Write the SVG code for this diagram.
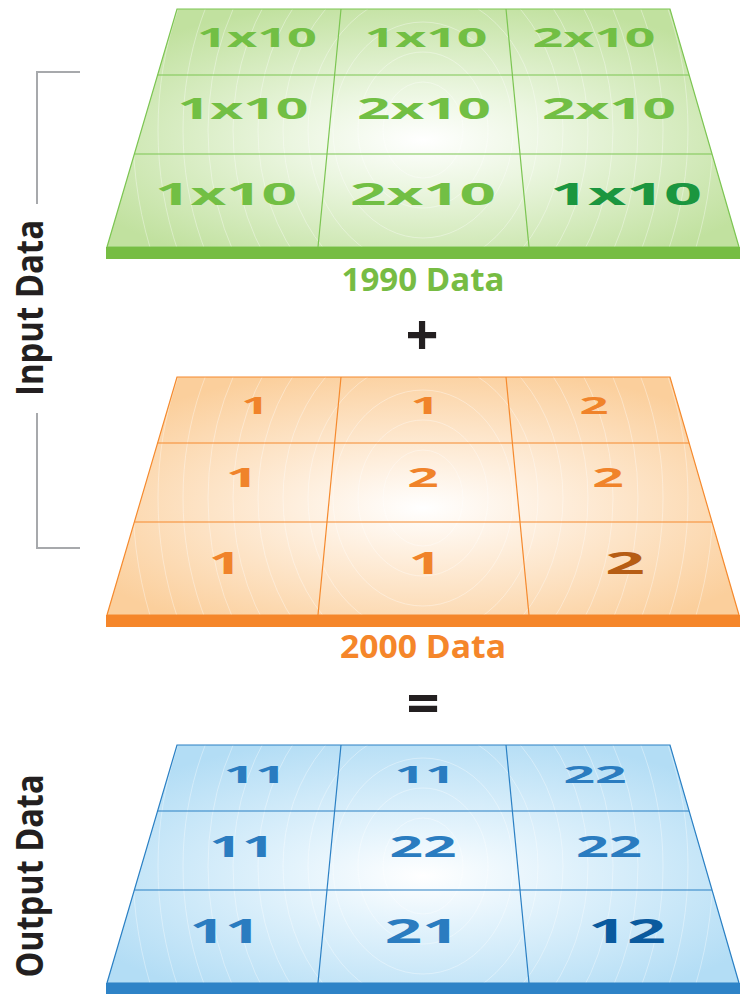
<svg xmlns="http://www.w3.org/2000/svg" width="742" height="994" viewBox="0 0 742 994">
<style>
.num{font-family:"Open Sans","Noto Sans",sans-serif;font-weight:bold;text-anchor:middle}
.lbl{font-family:"Open Sans","Noto Sans",sans-serif;font-weight:bold;text-anchor:middle}
.side{font-family:"Open Sans","Noto Sans",sans-serif;font-weight:bold;text-anchor:middle;fill:#231f20}
.grid{fill:none;stroke-width:1.2}
.ring{fill:none;stroke:#ffffff;stroke-width:0.8;stroke-opacity:0.45}
.g .gl{stroke:#7cc552}.g .bar{fill:#76bd43}.g .num{fill:#72bf44}.g .dk{fill:#1b963f}
.o .gl{stroke:#f58a2e}.o .bar{fill:#f5862a}.o .num{fill:#f0832a}.o .dk{fill:#b65d14}
.b .gl{stroke:#2b80c4}.b .bar{fill:#2e83c7}.b .num{fill:#2a7cc0}.b .dk{fill:#0a5a9e}
</style>
<defs>
<radialGradient id="gGreen" cx="0.5" cy="0.55" r="0.6">
<stop offset="0" stop-color="#ffffff"/><stop offset="0.35" stop-color="#ebf6e0"/><stop offset="1" stop-color="#c1e19f"/>
</radialGradient>
<radialGradient id="gOrange" cx="0.5" cy="0.55" r="0.6">
<stop offset="0" stop-color="#ffffff"/><stop offset="0.35" stop-color="#feeedc"/><stop offset="1" stop-color="#fbcf9c"/>
</radialGradient>
<radialGradient id="gBlue" cx="0.5" cy="0.55" r="0.6">
<stop offset="0" stop-color="#ffffff"/><stop offset="0.35" stop-color="#e3f3fc"/><stop offset="1" stop-color="#b3ddf5"/>
</radialGradient>
<clipPath id="panelClip"><polygon points="177,9 670,9 739,247 107,247"/></clipPath>
<g id="rings" clip-path="url(#panelClip)">
<ellipse class="ring" cx="423" cy="130" rx="40" ry="48"/>
<ellipse class="ring" cx="423" cy="130" rx="65" ry="78"/>
<ellipse class="ring" cx="423" cy="130" rx="90" ry="108"/>
<ellipse class="ring" cx="423" cy="130" rx="115" ry="138"/>
<ellipse class="ring" cx="423" cy="130" rx="140" ry="168"/>
<ellipse class="ring" cx="423" cy="130" rx="165" ry="198"/>
<ellipse class="ring" cx="423" cy="130" rx="190" ry="228"/>
<ellipse class="ring" cx="423" cy="130" rx="215" ry="258"/>
<ellipse class="ring" cx="423" cy="130" rx="240" ry="288"/>
<ellipse class="ring" cx="423" cy="130" rx="265" ry="318"/>
<ellipse class="ring" cx="423" cy="130" rx="290" ry="348"/>
</g>
<g id="gridLines">
<polygon class="grid" points="177,9 670,9 739,247 107,247"/>
<line class="grid" x1="157.6" y1="75" x2="689.1" y2="75"/>
<line class="grid" x1="134.4" y1="154" x2="712" y2="154"/>
<line class="grid" x1="341" y1="9" x2="318" y2="247"/>
<line class="grid" x1="506" y1="9" x2="529" y2="247"/>
</g>
</defs>

<g id="panel-1990" class="g">
<polygon points="177,9 670,9 739,247 107,247" fill="url(#gGreen)"/>
<use href="#rings"/>
<use class="gl" href="#gridLines"/>
<rect class="bar" x="106" y="247" width="634" height="12"/>
<text class="num" x="257" y="47" font-size="26" textLength="120" lengthAdjust="spacingAndGlyphs">1x10</text>
<text class="num" x="426" y="47" font-size="26" textLength="123" lengthAdjust="spacingAndGlyphs">1x10</text>
<text class="num" x="594" y="47" font-size="26" textLength="123" lengthAdjust="spacingAndGlyphs">2x10</text>
<text class="num" x="243" y="119" font-size="28" textLength="131" lengthAdjust="spacingAndGlyphs">1x10</text>
<text class="num" x="424" y="119" font-size="28" textLength="134" lengthAdjust="spacingAndGlyphs">2x10</text>
<text class="num" x="609" y="119" font-size="28" textLength="134" lengthAdjust="spacingAndGlyphs">2x10</text>
<text class="num" x="226" y="205" font-size="31" textLength="142" lengthAdjust="spacingAndGlyphs">1x10</text>
<text class="num" x="423" y="205" font-size="31" textLength="146" lengthAdjust="spacingAndGlyphs">2x10</text>
<text class="num dk" x="626" y="205" font-size="31" textLength="152" lengthAdjust="spacingAndGlyphs">1x10</text>
</g>
<g id="label-1990">
<text class="lbl" x="423" y="291" font-size="32" fill="#77bc43" textLength="163" lengthAdjust="spacingAndGlyphs">1990 Data</text>
</g>
<g id="plus">
<text class="lbl" x="422" y="355" font-size="58" fill="#231f20">+</text>
</g>

<g id="panel-2000" class="o" transform="translate(0,368)">
<polygon points="177,9 670,9 739,247 107,247" fill="url(#gOrange)"/>
<use href="#rings"/>
<use class="gl" href="#gridLines"/>
<rect class="bar" x="106" y="247" width="634" height="12"/>
<text class="num" x="255" y="46" font-size="24" textLength="27.5" lengthAdjust="spacingAndGlyphs">1</text>
<text class="num" x="425" y="46" font-size="24" textLength="29" lengthAdjust="spacingAndGlyphs">1</text>
<text class="num" x="594" y="46" font-size="24" textLength="29" lengthAdjust="spacingAndGlyphs">2</text>
<text class="num" x="242" y="119" font-size="26.5" textLength="32.6" lengthAdjust="spacingAndGlyphs">1</text>
<text class="num" x="423" y="119" font-size="26.5" textLength="31.5" lengthAdjust="spacingAndGlyphs">2</text>
<text class="num" x="608" y="119" font-size="26.5" textLength="31.5" lengthAdjust="spacingAndGlyphs">2</text>
<text class="num" x="225" y="206" font-size="31" textLength="32.7" lengthAdjust="spacingAndGlyphs">1</text>
<text class="num" x="425" y="206" font-size="31" textLength="32.7" lengthAdjust="spacingAndGlyphs">1</text>
<text class="num dk" x="625" y="206" font-size="31" textLength="39.7" lengthAdjust="spacingAndGlyphs">2</text>
</g>
<g id="label-2000">
<text class="lbl" x="423" y="658" font-size="32" fill="#f5862a" textLength="166" lengthAdjust="spacingAndGlyphs">2000 Data</text>
</g>
<g id="equals">
<text class="lbl" x="423" y="724" font-size="58" fill="#231f20">=</text>
</g>

<g id="panel-output" class="b" transform="translate(0,736)">
<polygon points="177,9 670,9 739,247 107,247" fill="url(#gBlue)"/>
<use href="#rings"/>
<use class="gl" href="#gridLines"/>
<rect class="bar" x="106" y="247" width="634" height="12"/>
<text class="num" x="255" y="47" font-size="23" textLength="63" lengthAdjust="spacingAndGlyphs">11</text>
<text class="num" x="425" y="47" font-size="23" textLength="61" lengthAdjust="spacingAndGlyphs">11</text>
<text class="num" x="595" y="47" font-size="23" textLength="63" lengthAdjust="spacingAndGlyphs">22</text>
<text class="num" x="242" y="121" font-size="28" textLength="65.7" lengthAdjust="spacingAndGlyphs">11</text>
<text class="num" x="423" y="121" font-size="28" textLength="67" lengthAdjust="spacingAndGlyphs">22</text>
<text class="num" x="609" y="121" font-size="28" textLength="66" lengthAdjust="spacingAndGlyphs">22</text>
<text class="num" x="225" y="207" font-size="33.5" textLength="71" lengthAdjust="spacingAndGlyphs">11</text>
<text class="num" x="422" y="207" font-size="33.5" textLength="74.7" lengthAdjust="spacingAndGlyphs">21</text>
<text class="num dk" x="627" y="207" font-size="33.5" textLength="77.8" lengthAdjust="spacingAndGlyphs">12</text>
</g>

<g id="connectors" fill="none" stroke="#a7a9ac" stroke-width="2">
<polyline points="80,72 37,72 37,204"/>
<polyline points="37,413 37,548 80,548"/>
</g>
<g id="label-input">
<text class="side" transform="translate(43,308) rotate(-90)" font-size="38" textLength="176" lengthAdjust="spacingAndGlyphs">Input Data</text>
</g>
<g id="label-output">
<text class="side" transform="translate(43,876) rotate(-90)" font-size="38" textLength="203" lengthAdjust="spacingAndGlyphs">Output Data</text>
</g>
</svg>
